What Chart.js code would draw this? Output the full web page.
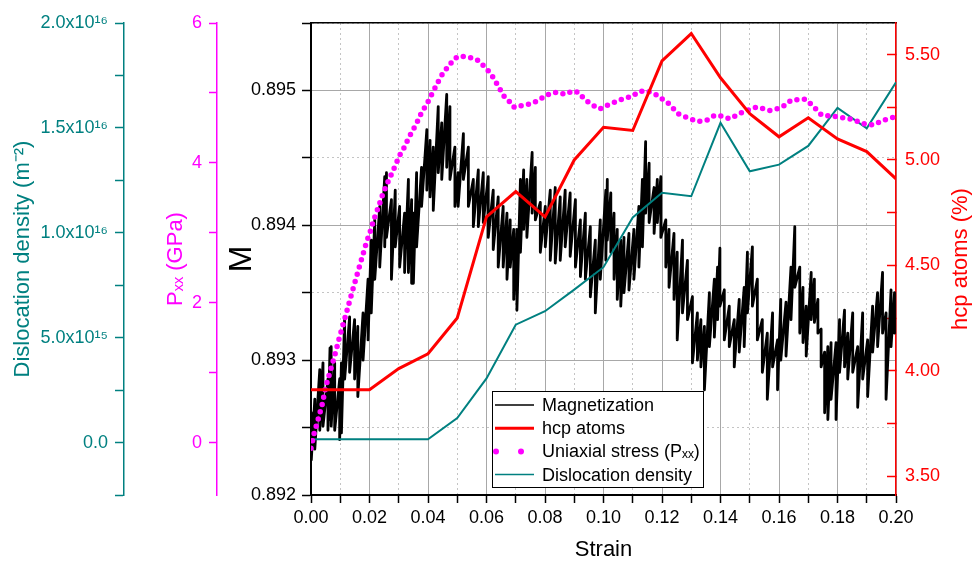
<!DOCTYPE html>
<html lang="en">
<head>
<meta charset="UTF-8">
<title>Magnetization vs strain</title>
<script src="https://cdn.jsdelivr.net/npm/chart.js@4.4.0/dist/chart.umd.min.js"></script>
<style>
  body { margin: 0; background: #fff; }
  #wrap { width: 972px; height: 561px; }
</style>
</head>
<body>
<div id="wrap"><canvas id="myChart" width="972" height="561"></canvas></div>
<script>
// values

// strain steps for hcp atoms and dislocation density
var strainSteps = [0.00, 0.01, 0.02, 0.03, 0.04, 0.05, 0.06, 0.07, 0.08, 0.09, 0.10,
                   0.11, 0.12, 0.13, 0.14, 0.15, 0.16, 0.17, 0.18, 0.19, 0.20];
var hcpAtoms = [3.91, 3.91, 3.91, 4.01, 4.08, 4.25, 4.73, 4.85, 4.73, 5.00, 5.155,
                5.14, 5.47, 5.60, 5.39, 5.22, 5.11, 5.20, 5.10, 5.04, 4.91];
var dislocation = [1.6e14, 1.6e14, 1.6e14, 1.6e14, 1.6e14, 1.17e15, 3.06e15, 5.62e15, 6.26e15, 7.29e15, 8.36e15,
                   1.073e16, 1.191e16, 1.174e16, 1.524e16, 1.293e16, 1.325e16, 1.414e16, 1.595e16, 1.498e16, 1.717e16];

// uniaxial stress Pxx (GPa)
var stressStrain = [0.000, 0.001, 0.0025, 0.0038, 0.005, 0.0067, 0.0082, 0.0097, 0.011, 0.0124,
                    0.0137, 0.015, 0.0163, 0.0177, 0.019, 0.0202, 0.0215, 0.0234, 0.0245, 0.0259,
                    0.0272, 0.0288, 0.0302, 0.032, 0.0334, 0.035, 0.0366, 0.0379, 0.0396, 0.0414,
                    0.0425, 0.0441, 0.0455, 0.0471, 0.0484, 0.0498, 0.0512, 0.0528, 0.0553, 0.0573,
                    0.0596, 0.0614, 0.063, 0.0648, 0.0662, 0.0676, 0.0692, 0.0705, 0.0721, 0.0737,
                    0.0756, 0.0781, 0.0801, 0.0824, 0.0844, 0.0869, 0.0895, 0.0913, 0.0933, 0.0956,
                    0.0988, 0.1011, 0.104, 0.1068, 0.1097, 0.1122, 0.1148, 0.1182, 0.1222, 0.1256,
                    0.1296, 0.1324, 0.1353, 0.1381, 0.1404, 0.1432, 0.1478, 0.1524, 0.1569, 0.1609,
                    0.1643, 0.1689, 0.1712, 0.1746, 0.1797, 0.1854, 0.1888, 0.1922, 0.1957, 0.1991, 0.2];
var stressValues = [-0.08, 0.12, 0.34, 0.54, 0.79, 1.04, 1.26, 1.50, 1.69, 1.90,
                    2.10, 2.29, 2.48, 2.68, 2.87, 3.01, 3.19, 3.41, 3.55, 3.69,
                    3.81, 3.96, 4.10, 4.23, 4.36, 4.48, 4.61, 4.73, 4.84, 4.99,
                    5.08, 5.21, 5.31, 5.38, 5.46, 5.51, 5.53, 5.51, 5.50, 5.46,
                    5.36, 5.28, 5.17, 5.04, 4.94, 4.89, 4.80, 4.79, 4.82, 4.83,
                    4.85, 4.90, 4.96, 5.00, 5.01, 4.98, 5.03, 5.01, 4.92, 4.84,
                    4.77, 4.82, 4.87, 4.92, 4.95, 5.02, 5.03, 4.97, 4.85, 4.70,
                    4.63, 4.59, 4.61, 4.68, 4.67, 4.63, 4.73, 4.80, 4.75, 4.79,
                    4.90, 4.91, 4.83, 4.68, 4.66, 4.62, 4.56, 4.54, 4.61, 4.65, 4.66];

// magnetization: upper and lower edge of the noisy trace at each strain
var magStrain = [0.0001, 0.0013, 0.003, 0.0041, 0.0058, 0.0065, 0.0069, 0.0081, 0.0098, 0.0104,
                 0.0115, 0.0132, 0.0149, 0.016, 0.0178, 0.0195, 0.0206, 0.0218, 0.0235, 0.0252,
                 0.0258, 0.0275, 0.0288, 0.0303, 0.032, 0.0333, 0.0344, 0.035, 0.0361, 0.0378,
                 0.0396, 0.0407, 0.0418, 0.0435, 0.0447, 0.0464, 0.0475, 0.0492, 0.0503, 0.0521,
                 0.0538, 0.0555, 0.0572, 0.0589, 0.0606, 0.0623, 0.064, 0.0657, 0.067, 0.0681,
                 0.0693, 0.0704, 0.0716, 0.0727, 0.0738, 0.0756, 0.0767, 0.0784, 0.0801, 0.0818,
                 0.0835, 0.0852, 0.0869, 0.0886, 0.0904, 0.0921, 0.0938, 0.0955, 0.0972, 0.0989,
                 0.1008, 0.1013, 0.1025, 0.1036, 0.1047, 0.1059, 0.107, 0.1087, 0.1104, 0.1121,
                 0.1133, 0.1144, 0.1156, 0.1173, 0.1184, 0.1196, 0.1213, 0.1224, 0.1241, 0.1252,
                 0.127, 0.1287, 0.1304, 0.1321, 0.1333, 0.1345, 0.1362, 0.1379, 0.139, 0.1398,
                 0.1413, 0.143, 0.1447, 0.1464, 0.1481, 0.1492, 0.1509, 0.1526, 0.1543, 0.156,
                 0.1578, 0.1595, 0.1606, 0.1624, 0.1641, 0.1654, 0.1671, 0.1682, 0.1693, 0.171,
                 0.1721, 0.1733, 0.1744, 0.1756, 0.1767, 0.1778, 0.1795, 0.1807, 0.1824, 0.1835,
                 0.1852, 0.1869, 0.1886, 0.1903, 0.192, 0.1937, 0.1954, 0.1966, 0.1983, 0.1995];
var magHigh = [0.89261, 0.89271, 0.89293, 0.89298, 0.89286, 0.89309, 0.89310, 0.89298, 0.89286, 0.89298,
               0.89332, 0.89332, 0.89330, 0.89325, 0.89335, 0.89360, 0.89389, 0.89404, 0.89414, 0.89436,
               0.89439, 0.89419, 0.89426, 0.89414, 0.89409, 0.89434, 0.89419, 0.89409, 0.89439, 0.89443,
               0.89471, 0.89463, 0.89458, 0.89488, 0.89476, 0.89497, 0.89488, 0.89458, 0.89439, 0.89468,
               0.89458, 0.89434, 0.89441, 0.89439, 0.89436, 0.89426, 0.89421, 0.89414, 0.89409, 0.89404,
               0.89397, 0.89397, 0.89434, 0.89441, 0.89434, 0.89454, 0.89443, 0.89417, 0.89414, 0.89426,
               0.89428, 0.89421, 0.89426, 0.89424, 0.89419, 0.89404, 0.89409, 0.89399, 0.89389, 0.89404,
               0.89426, 0.89434, 0.89424, 0.89409, 0.89397, 0.89389, 0.89391, 0.89394, 0.89397, 0.89414,
               0.89434, 0.89462, 0.89446, 0.89428, 0.89434, 0.89436, 0.89404, 0.89397, 0.89394, 0.89380,
               0.89389, 0.89374, 0.89347, 0.89335, 0.89330, 0.89325, 0.89350, 0.89360, 0.89369, 0.89383,
               0.89352, 0.89340, 0.89330, 0.89345, 0.89354, 0.89380, 0.89384, 0.89360, 0.89330, 0.89320,
               0.89335, 0.89315, 0.89345, 0.89343, 0.89369, 0.89399, 0.89369, 0.89354, 0.89340, 0.89365,
               0.89360, 0.89345, 0.89323, 0.89306, 0.89310, 0.89313, 0.89313, 0.89330, 0.89337, 0.89320,
               0.89335, 0.89310, 0.89335, 0.89315, 0.89340, 0.89350, 0.89365, 0.89335, 0.89352, 0.89350];
var magLow = [0.89226, 0.89234, 0.89248, 0.89251, 0.89248, 0.89256, 0.89251, 0.89248, 0.89241, 0.89246,
              0.89286, 0.89291, 0.89286, 0.89273, 0.89300, 0.89315, 0.89335, 0.89360, 0.89369, 0.89384,
              0.89391, 0.89360, 0.89384, 0.89369, 0.89365, 0.89365, 0.89357, 0.89357, 0.89384, 0.89414,
              0.89426, 0.89421, 0.89411, 0.89439, 0.89434, 0.89443, 0.89434, 0.89414, 0.89414, 0.89434,
              0.89414, 0.89399, 0.89399, 0.89402, 0.89391, 0.89382, 0.89369, 0.89369, 0.89360, 0.89369,
              0.89345, 0.89337, 0.89380, 0.89397, 0.89391, 0.89409, 0.89404, 0.89380, 0.89384, 0.89374,
              0.89372, 0.89374, 0.89384, 0.89377, 0.89369, 0.89362, 0.89360, 0.89347, 0.89335, 0.89360,
              0.89374, 0.89389, 0.89380, 0.89360, 0.89345, 0.89340, 0.89350, 0.89352, 0.89360, 0.89369,
              0.89384, 0.89409, 0.89402, 0.89394, 0.89402, 0.89391, 0.89369, 0.89354, 0.89345, 0.89315,
              0.89335, 0.89330, 0.89298, 0.89300, 0.89295, 0.89278, 0.89310, 0.89317, 0.89330, 0.89340,
              0.89315, 0.89310, 0.89295, 0.89306, 0.89310, 0.89335, 0.89340, 0.89315, 0.89291, 0.89271,
              0.89295, 0.89278, 0.89300, 0.89303, 0.89330, 0.89354, 0.89320, 0.89313, 0.89303, 0.89330,
              0.89328, 0.89320, 0.89295, 0.89261, 0.89256, 0.89271, 0.89256, 0.89291, 0.89295, 0.89286,
              0.89291, 0.89265, 0.89286, 0.89273, 0.89306, 0.89310, 0.89320, 0.89271, 0.89310, 0.89320];

var RED = '#ff0000';
var MAG = '#ff00ff';
var TEAL = '#008080';
var FONT = '"Liberation Sans", Arial, sans-serif';

Chart.defaults.font.family = FONT;
Chart.defaults.color = '#000';

var magPoints = [];
for (var i = 0; i < magStrain.length; i++) {
    magPoints.push({x: magStrain[i], y: magHigh[i]});
    magPoints.push({x: magStrain[i], y: magLow[i]});
}
var hcpPoints = strainSteps.map(function (s, i) { return {x: s, y: hcpAtoms[i]}; });
var dislPoints = strainSteps.map(function (s, i) { return {x: s, y: dislocation[i]}; });
var stressPoints = stressStrain.map(function (s, i) { return {x: s, y: stressValues[i]}; });

function isMultiple(v, step) {
    return Math.abs(v / step - Math.round(v / step)) < 1e-6;
}

var supDigits = {'0': '⁰', '1': '¹', '2': '²', '3': '³', '4': '⁴', '5': '⁵', '6': '⁶', '7': '⁷', '8': '⁸', '9': '⁹'};
function sciLabel(v) {
    if (Math.abs(v) < 1e10) return '0.0';
    var e = Math.floor(Math.log10(v) + 1e-9);
    var m = v / Math.pow(10, e);
    return m.toFixed(1) + 'x10' + String(e).split('').map(function (d) { return supDigits[d]; }).join('');
}

// hcp axis title reads bottom to top, chart.js would turn it the other way
var rightTitle = {
    id: 'rightTitle',
    afterDraw: function (chart) {
        var s = chart.scales.yH;
        var c = chart.ctx;
        c.save();
        c.translate(s.right - 11, (s.top + s.bottom) / 2);
        c.rotate(-Math.PI / 2);
        c.font = '22px ' + FONT;
        c.fillStyle = RED;
        c.textAlign = 'center';
        c.textBaseline = 'middle';
        c.fillText('hcp atoms (%)', 0, 0);
        c.restore();
    }
};

// boxed legend inside the plot
var boxLegend = {
    id: 'boxLegend',
    afterDatasetsDraw: function (chart) {
        var a = chart.chartArea;
        var c = chart.ctx;
        var left = a.left + 181, top = a.bottom - 104, w = 211, h = 96;
        c.save();
        c.fillStyle = '#fff';
        c.fillRect(left, top, w, h);
        c.strokeStyle = '#000';
        c.lineWidth = 1;
        c.strokeRect(left + 0.5, top + 0.5, w, h);
        c.font = '18px ' + FONT;
        c.textBaseline = 'middle';
        c.textAlign = 'left';
        chart.data.datasets.forEach(function (ds, k) {
            var y = top + 14 + k * 23.2;
            c.beginPath();
            c.strokeStyle = ds.borderColor;
            if (ds.borderDash) {
                c.setLineDash([0, 25]);
                c.lineCap = 'round';
                c.lineWidth = 6;
                c.moveTo(left + 4, y);
                c.lineTo(left + 40, y);
            } else {
                c.setLineDash([]);
                c.lineCap = 'butt';
                c.lineWidth = k === 1 ? 3 : 1.5;
                c.moveTo(left + 3, y);
                c.lineTo(left + 42, y);
            }
            c.stroke();
            c.fillStyle = '#000';
            c.fillText(ds.label, left + 50, y + 1);
        });
        c.restore();
    }
};

var ctx = document.getElementById('myChart').getContext('2d');
var myChart = new Chart(ctx, {
    type: 'line',
    data: {
        datasets: [{
                label: 'Magnetization',
                data: magPoints,
                yAxisID: 'yM',
                borderColor: '#000',
                borderWidth: 2.8,
                borderJoinStyle: 'round',
                pointRadius: 0,
                order: 4
            },
            {
                label: 'hcp atoms',
                data: hcpPoints,
                yAxisID: 'yH',
                borderColor: RED,
                borderWidth: 3,
                pointRadius: 0,
                order: 1
            },
            {
                label: 'Uniaxial stress (Pₓₓ)',
                data: stressPoints,
                yAxisID: 'yP',
                borderColor: MAG,
                borderWidth: 5.5,
                borderDash: [0, 7.5],
                borderCapStyle: 'round',
                pointRadius: 0,
                order: 2
            },
            {
                label: 'Dislocation density',
                data: dislPoints,
                yAxisID: 'yD',
                borderColor: TEAL,
                borderWidth: 2,
                pointRadius: 0,
                order: 3
            }
        ]
    },
    options: {
        responsive: false,
        devicePixelRatio: 1,
        animation: false,
        layout: { padding: { top: 23, left: 0, right: 0, bottom: 0 } },
        plugins: {
            legend: { display: false },
            tooltip: { enabled: false }
        },
        scales: {
            x: {
                type: 'linear',
                position: 'bottom',
                min: 0,
                max: 0.2,
                ticks: {
                    stepSize: 0.01,
                    autoSkip: false,
                    maxRotation: 0,
                    padding: 4,
                    font: { size: 18 },
                    color: '#000',
                    callback: function (v) { return isMultiple(v, 0.02) ? v.toFixed(2) : ''; }
                },
                grid: {
                    color: function (c) { return c.tick && isMultiple(c.tick.value, 0.02) ? '#a8a8a8' : '#c4c4c4'; },
                    lineWidth: 1,
                    tickLength: 8,
                    tickColor: '#000',
                    tickWidth: 1.5
                },
                border: {
                    color: '#000',
                    width: 2,
                    dash: function (c) { return c.tick && !isMultiple(c.tick.value, 0.02) ? [2, 3] : []; }
                },
                title: {
                    display: true,
                    text: 'Strain',
                    font: { size: 22 },
                    color: '#000',
                    padding: { top: 0, bottom: -2 }
                },
                afterFit: function (s) { s.height = 66; }
            },
            xTop: {
                type: 'linear',
                position: 'top',
                min: 0,
                max: 0.2,
                ticks: { display: false },
                grid: { drawOnChartArea: false, drawTicks: false },
                border: { color: '#000', width: 1.5 },
                afterFit: function (s) { s.height = 0; }
            },
            yM: {
                type: 'linear',
                position: 'left',
                weight: 1,
                min: 0.892,
                max: 0.8955,
                ticks: {
                    stepSize: 0.0005,
                    autoSkip: false,
                    padding: 6,
                    font: { size: 18 },
                    color: '#000',
                    callback: function (v) { return isMultiple(v, 0.001) ? v.toFixed(3) : ''; }
                },
                grid: {
                    color: function (c) { return c.tick && isMultiple(c.tick.value, 0.001) ? '#a8a8a8' : '#c4c4c4'; },
                    lineWidth: 1,
                    tickLength: 9,
                    tickColor: '#000',
                    tickWidth: 1.5
                },
                border: {
                    color: '#000',
                    width: 2,
                    dash: function (c) { return c.tick && !isMultiple(c.tick.value, 0.001) ? [2, 3] : []; }
                },
                title: {
                    display: true,
                    text: 'M',
                    font: { size: 32 },
                    color: '#000',
                    padding: { top: 6, bottom: 0 }
                },
                afterFit: function (s) { s.width = 94; }
            },
            yP: {
                type: 'linear',
                position: 'left',
                weight: 2,
                min: -0.75,
                max: 6,
                ticks: {
                    stepSize: 1,
                    includeBounds: false,
                    autoSkip: false,
                    padding: 7,
                    font: { size: 18 },
                    color: MAG,
                    callback: function (v) { return isMultiple(v, 2) ? String(Math.round(v)) : ''; }
                },
                grid: { drawOnChartArea: false, tickLength: 8, tickColor: MAG, tickWidth: 1.5 },
                border: { color: MAG, width: 1.5 },
                title: {
                    display: true,
                    text: 'Pₓₓ (GPa)',
                    font: { size: 22 },
                    color: MAG,
                    padding: { top: 39, bottom: 0 }
                },
                afterFit: function (s) { s.width = 93; }
            },
            yD: {
                type: 'linear',
                position: 'left',
                weight: 3,
                min: -2.5e15,
                max: 2.0e16,
                ticks: {
                    stepSize: 2.5e15,
                    includeBounds: false,
                    autoSkip: false,
                    padding: 7,
                    font: { size: 18 },
                    color: TEAL,
                    callback: function (v) { return isMultiple(v, 5e15) ? sciLabel(v) : ''; }
                },
                grid: { drawOnChartArea: false, tickLength: 9, tickColor: TEAL, tickWidth: 1.5 },
                border: { color: TEAL, width: 1.5 },
                title: {
                    display: true,
                    text: 'Dislocation density (m⁻²)',
                    font: { size: 22 },
                    color: TEAL,
                    padding: { top: 10, bottom: 0 }
                },
                afterFit: function (s) { s.width = 124; }
            },
            yH: {
                type: 'linear',
                position: 'right',
                min: 3.41,
                max: 5.65,
                ticks: {
                    stepSize: 0.25,
                    includeBounds: false,
                    autoSkip: false,
                    padding: 18,
                    font: { size: 18 },
                    color: RED,
                    callback: function (v) { return isMultiple(v, 0.5) ? v.toFixed(2) : ''; }
                },
                grid: { drawOnChartArea: false, tickLength: -9, tickColor: RED, tickWidth: 1.5 },
                border: { color: RED, width: 1.5 },
                afterFit: function (s) {
                    // the large label padding would otherwise push the plot down
                    s.width = 76;
                    s.paddingTop = 11;
                    s.paddingBottom = 11;
                }
            }
        }
    },
    plugins: [rightTitle, boxLegend]
});
</script>
</body>
</html>
